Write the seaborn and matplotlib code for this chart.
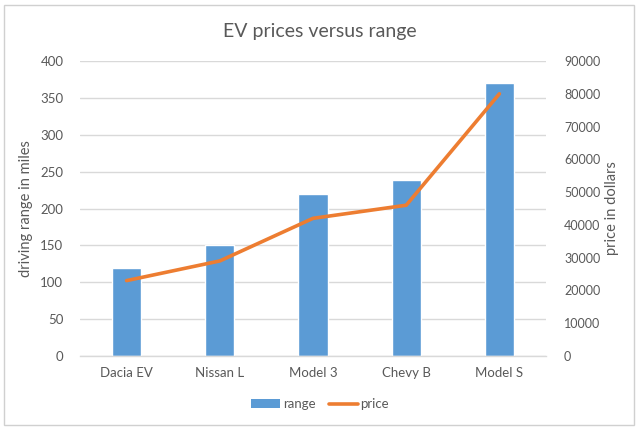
import matplotlib
matplotlib.use("Agg")
import matplotlib.pyplot as plt
import seaborn as sns
import pandas as pd
from matplotlib.patches import Rectangle, Patch
from matplotlib.lines import Line2D

models = ["Dacia EV", "Nissan L", "Model 3", "Chevy B", "Model S"]
range_miles = [120, 150, 220, 238, 370]
price_dollars = [23000, 29000, 42000, 46000, 80000]

df = pd.DataFrame({"model": models, "range": range_miles, "price": price_dollars})

sns.set_theme(style="white")
plt.rcParams["font.family"] = ["Lato", "DejaVu Sans"]

W, H = 640, 432
fig = plt.figure(figsize=(6.4, 4.32), dpi=100)
fig.patch.set_facecolor("white")

# chart border
fig.add_artist(Rectangle((4 / W, 1 - 425 / H), (634 - 4) / W, (425 - 5) / H,
                         transform=fig.transFigure, fill=False,
                         edgecolor="#D0D0D0", linewidth=1))

left, right, top, bottom = 80, 546, 61, 356
ax = fig.add_axes([left / W, 1 - bottom / H, (right - left) / W, (bottom - top) / H])

bar_color = "#5B9BD5"
line_color = "#ED7D31"
grid_color = "#D9D9D9"
text_color = "#595959"

sns.barplot(data=df, x="model", y="range", color=bar_color, width=0.315,
            saturation=1, ax=ax, zorder=2)
ax.set_ylim(0, 400)
ax.set_yticks(range(0, 401, 50))
ax.set_xlim(-0.5, 4.5)
ax.yaxis.grid(True, color=grid_color, linewidth=1)
ax.set_axisbelow(True)
for s in ["top", "left", "right"]:
    ax.spines[s].set_visible(False)
ax.spines["bottom"].set_color(grid_color)
ax.spines["bottom"].set_linewidth(1)
ax.tick_params(axis="y", length=0, labelsize=9.5, colors=text_color, pad=12)
ax.tick_params(axis="x", length=0, labelsize=9.5, colors=text_color, pad=8)
ax.set_xlabel("")
ax.set_ylabel("driving range in miles", fontsize=10.5, color=text_color, labelpad=5)

ax2 = ax.twinx()
sns.lineplot(data=df, x="model", y="price", color=line_color, linewidth=2.6,
             sort=False, ax=ax2, zorder=3)
ax2.set_ylim(0, 90000)
ax2.set_yticks(range(0, 90001, 10000))
ax2.set_xlim(-0.5, 4.5)
for s in ["top", "left", "right", "bottom"]:
    ax2.spines[s].set_visible(False)
ax2.tick_params(axis="both", length=0, labelsize=9, colors=text_color, pad=13)
ax2.set_ylabel("price in dollars", fontsize=10.5, color=text_color, labelpad=3)
ax2.grid(False)

fig.text(0.5, 1 - 32 / H, "EV prices versus range", ha="center", va="center",
         fontsize=14, color=text_color)

handles = [Patch(facecolor=bar_color, edgecolor="none", label="range"),
           Line2D([0], [0], color=line_color, linewidth=2.6, label="price")]
fig.legend(handles=handles, loc="center", bbox_to_anchor=(0.5, 1 - 404 / H),
           ncol=2, frameon=False, fontsize=9.5, labelcolor=text_color,
           handlelength=2.2, handleheight=0.6, columnspacing=1.0, handletextpad=0.2)

fig.savefig("out.png", dpi=100, facecolor="white")
